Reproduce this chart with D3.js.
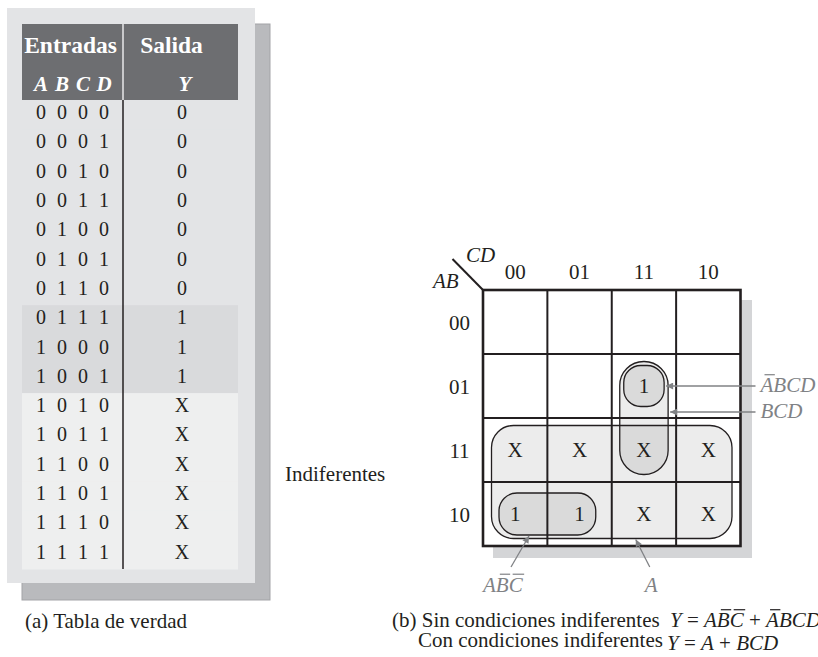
<!DOCTYPE html>
<html><head><meta charset="utf-8">
<script src="https://cdn.jsdelivr.net/npm/d3@7"></script>
<style>
body{margin:0;background:#fff}
svg{display:block}
text{font-family:"Liberation Serif","Times New Roman",serif;white-space:pre}
</style>
</head><body>
<svg id="c" width="818" height="657"></svg>
<script>
// ---------- data ----------
const inputNames = ["A","B","C","D"];
const inputs = ["0000","0001","0010","0011","0100","0101","0110","0111",
                "1000","1001","1010","1011","1100","1101","1110","1111"];
const outputs = ["0","0","0","0","0","0","0","1","1","1","X","X","X","X","X","X"];
const headerTop = ["Entradas","Salida"];
const outputName = "Y";
const kmapCols = ["00","01","11","10"];   // CD
const kmapRows = ["00","01","11","10"];   // AB
const groupNames = ["A","BCD","ABCD","ABC"];
const groupRows = [["11","10"],["01","11"],["01","01"],["10","10"]];
const groupCols = [["00","10"],["11","11"],["11","11"],["00","01"]];
const sideNote = "Indiferentes";
const captionA = "(a) Tabla de verdad";
const captionB1 = "(b) Sin condiciones indiferentes";
const captionB2 = "Con condiciones indiferentes";

// ---------- styles ----------
const INK = "#231f20", GRAY = "#808285";
const bandFill = {"0":"#e3e4e6","1":"#d9dadc","X":"#eeefef"};
const groupStyle = {
  A:   {ix:8.5, iy:7.5, r:22},
  BCD: {ix:8,   iy:7.5, r:24},
  ABCD:{ix:12,  iy:11.5,r:17},
  ABC: {ix:16,  iy:11,  r:18}
};

const svg = d3.select("#c");
const defs = svg.append("defs");
defs.append("marker").attr("id","ah").attr("viewBox","0 0 10 10")
  .attr("refX",10).attr("refY",5).attr("markerWidth",11).attr("markerHeight",7)
  .attr("markerUnits","userSpaceOnUse").attr("orient","auto")
  .append("path").attr("d","M0,0 L10,5 L0,10 Z").attr("fill",GRAY);

function richText(parent, x, y, segs, size, fill){
  const t = parent.append("text").attr("x",x).attr("y",y)
    .attr("font-size",size).attr("fill",fill);
  segs.forEach(s => t.append("tspan").text(s.t)
    .attr("font-style", s.i ? "italic" : "normal"));
  const node = t.node();
  let idx = 0;
  segs.forEach(s => {
    if (s.bar) {
      for (let k = 0; k < s.t.length; k++) {
        const a = node.getStartPositionOfChar(idx+k).x;
        const b = node.getEndPositionOfChar(idx+k).x;
        const sk = s.i ? 2.5 : 0;
        parent.append("line").attr("x1",a+1.5+sk).attr("x2",b-1+sk)
          .attr("y1",y-size*0.68-3).attr("y2",y-size*0.68-3)
          .attr("stroke",fill).attr("stroke-width",1.2);
      }
    }
    idx += s.t.length;
  });
  return t;
}

// ---------- truth table ----------
const yRow = d3.scaleBand().domain(d3.range(inputs.length)).range([100,569]);
const xIn = d3.scalePoint().domain(inputNames).range([41,104]);
const xOut = 182, tabL = 22, tabR = 238, divX = 123;

const tbl = svg.append("g");
tbl.append("rect").attr("x",22).attr("y",24).attr("width",248).attr("height",576)
  .attr("fill","#b9babd").attr("stroke","#a3a4a7").attr("stroke-width",1);
tbl.append("rect").attr("x",7).attr("y",8).attr("width",248).attr("height",575)
  .attr("fill","#e3e4e6");
tbl.append("rect").attr("x",tabL).attr("y",24).attr("width",tabR-tabL).attr("height",76)
  .attr("fill","#6d6e71");
tbl.selectAll("rect.band").data(outputs).join("rect").attr("class","band")
  .attr("x",tabL).attr("width",tabR-tabL)
  .attr("y",(d,i)=>yRow(i)).attr("height",yRow.bandwidth()+0.5)
  .attr("fill",d=>bandFill[d]);

tbl.append("text").attr("x",70.5).attr("y",52.5).attr("text-anchor","middle")
  .attr("font-size",23.5).attr("font-weight","bold").attr("fill","#fff").text(headerTop[0]);
tbl.append("text").attr("x",171.5).attr("y",52.5).attr("text-anchor","middle")
  .attr("font-size",23.5).attr("font-weight","bold").attr("fill","#fff").text(headerTop[1]);
tbl.selectAll("text.hin").data(inputNames).join("text").attr("class","hin")
  .attr("x",d=>xIn(d)).attr("y",90.5).attr("text-anchor","middle")
  .attr("font-size",21).attr("font-weight","bold").attr("font-style","italic")
  .attr("fill","#fff").text(d=>d);
tbl.append("text").attr("x",xOut+3).attr("y",90.5).attr("text-anchor","middle")
  .attr("font-size",21).attr("font-weight","bold").attr("font-style","italic")
  .attr("fill","#fff").text(outputName);
tbl.append("line").attr("x1",divX).attr("x2",divX).attr("y1",24).attr("y2",100)
  .attr("stroke","#e8e9ea").attr("stroke-width",1.5);
tbl.append("line").attr("x1",divX).attr("x2",divX).attr("y1",100).attr("y2",569)
  .attr("stroke",INK).attr("stroke-width",1.5);

inputs.forEach((bits,i)=>{
  tbl.selectAll(null).data(bits.split("")).join("text")
    .attr("x",(d,k)=>xIn(inputNames[k])).attr("y",yRow(i)+19)
    .attr("text-anchor","middle").attr("font-size",20).attr("fill",INK).text(d=>d);
});
tbl.selectAll("text.out").data(outputs).join("text").attr("class","out")
  .attr("x",xOut).attr("y",(d,i)=>yRow(i)+19).attr("text-anchor","middle")
  .attr("font-size",20).attr("fill",INK).text(d=>d);

svg.append("text").attr("x",25).attr("y",628).attr("font-size",21).attr("fill",INK).text(captionA);
svg.append("text").attr("x",285).attr("y",481).attr("font-size",21).attr("fill",INK).text(sideNote);

// ---------- Karnaugh map ----------
const kx = d3.scaleBand().domain(kmapCols).range([483,740.5]);
const ky = d3.scaleBand().domain(kmapRows).range([290,546]);
const [gx0,gx1] = kx.range(), [gy0,gy1] = ky.range();
const km = svg.append("g");
km.append("rect").attr("x",gx0+10).attr("y",gy0+10).attr("width",gx1-gx0+1.5)
  .attr("height",gy1-gy0+2).attr("fill","#d4d5d7");
km.append("rect").attr("x",gx0).attr("y",gy0).attr("width",gx1-gx0)
  .attr("height",gy1-gy0).attr("fill","#fff");

function gbox(i){
  const st = groupStyle[groupNames[i]];
  const x0 = kx(groupCols[i][0]) + st.ix, x1 = kx(groupCols[i][1]) + kx.bandwidth() - st.ix;
  const y0 = ky(groupRows[i][0]) + st.iy, y1 = ky(groupRows[i][1]) + ky.bandwidth() - st.iy;
  return {x0,x1,y0,y1,r:st.r};
}
const boxes = groupNames.map((n,i)=>gbox(i));
km.selectAll("rect.gfill").data(boxes).join("rect").attr("class","gfill")
  .attr("x",d=>d.x0).attr("y",d=>d.y0).attr("width",d=>d.x1-d.x0).attr("height",d=>d.y1-d.y0)
  .attr("rx",d=>d.r).attr("fill","#000").attr("fill-opacity",0.075);

// grid
kmapCols.slice(1).forEach(c=>km.append("line").attr("x1",kx(c)).attr("x2",kx(c))
  .attr("y1",gy0).attr("y2",gy1).attr("stroke",INK).attr("stroke-width",2));
kmapRows.slice(1).forEach(r=>km.append("line").attr("y1",ky(r)).attr("y2",ky(r))
  .attr("x1",gx0).attr("x2",gx1).attr("stroke",INK).attr("stroke-width",2));

km.selectAll("rect.gline").data(boxes).join("rect").attr("class","gline")
  .attr("x",d=>d.x0).attr("y",d=>d.y0).attr("width",d=>d.x1-d.x0).attr("height",d=>d.y1-d.y0)
  .attr("rx",d=>d.r).attr("fill","none").attr("stroke",INK).attr("stroke-width",1.3);

km.append("rect").attr("x",gx0).attr("y",gy0).attr("width",gx1-gx0)
  .attr("height",gy1-gy0).attr("fill","none").attr("stroke",INK).attr("stroke-width",2.6);
km.append("line").attr("x1",gx0-30.5).attr("y1",gy0-31).attr("x2",gx0).attr("y2",gy0)
  .attr("stroke",INK).attr("stroke-width",2);

km.selectAll("text.cl").data(kmapCols).join("text").attr("class","cl")
  .attr("x",d=>kx(d)+kx.bandwidth()/2).attr("y",gy0-11).attr("text-anchor","middle")
  .attr("font-size",21).attr("fill",INK).text(d=>d);
km.selectAll("text.rl").data(kmapRows).join("text").attr("class","rl")
  .attr("x",gx0-23.5).attr("y",d=>ky(d)+ky.bandwidth()/2+7.5).attr("text-anchor","middle")
  .attr("font-size",21).attr("fill",INK).text(d=>d);
km.append("text").attr("x",gx0-17).attr("y",gy0-28).attr("font-size",21)
  .attr("font-style","italic").attr("fill",INK).text("CD");
km.append("text").attr("x",gx0-50).attr("y",gy0-2).attr("font-size",21)
  .attr("font-style","italic").attr("fill",INK).text("AB");

const cells = [];
kmapRows.forEach(r=>kmapCols.forEach(c=>{
  const v = outputs[parseInt(r+c,2)];
  if (v !== "0") cells.push({r,c,v});
}));
km.selectAll("text.cell").data(cells).join("text").attr("class","cell")
  .attr("x",d=>kx(d.c)+kx.bandwidth()/2).attr("y",d=>ky(d.r)+ky.bandwidth()/2+7)
  .attr("text-anchor","middle").attr("font-size",21).attr("fill",INK).text(d=>d.v);

// annotations
const bA = boxes[0], bBCD = boxes[1], bABCD = boxes[2], bABC = boxes[3];
const ann = svg.append("g");
const yAbcd = (bABCD.y0+bABCD.y1)/2;
ann.append("line").attr("x1",gx1+15).attr("x2",bABCD.x1+2).attr("y1",yAbcd).attr("y2",yAbcd)
  .attr("stroke",GRAY).attr("stroke-width",1.3).attr("marker-end","url(#ah)");
const yBcd = ky("01")+ky.bandwidth()-6;
ann.append("line").attr("x1",gx1+15).attr("x2",bBCD.x1+2).attr("y1",yBcd).attr("y2",yBcd)
  .attr("stroke",GRAY).attr("stroke-width",1.3).attr("marker-end","url(#ah)");
richText(ann, gx1+20, yAbcd+6, [{t:"A",i:1,bar:1},{t:"BCD",i:1}], 21, GRAY);
richText(ann, gx1+20, yBcd+6, [{t:"BCD",i:1}], 21, GRAY);

ann.append("line").attr("x1",bABC.x0+12).attr("y1",gy1+21).attr("x2",bABC.x0+30).attr("y2",bABC.y1+1)
  .attr("stroke",GRAY).attr("stroke-width",1.3).attr("marker-end","url(#ah)");
ann.append("line").attr("x1",kx("11")+38).attr("y1",gy1+21).attr("x2",kx("11")+24).attr("y2",bA.y1+1)
  .attr("stroke",GRAY).attr("stroke-width",1.3).attr("marker-end","url(#ah)");
richText(ann, gx0, gy1+45.5, [{t:"A",i:1},{t:"BC",i:1,bar:1}], 21, GRAY);
richText(ann, kx("11")+33, gy1+45.5, [{t:"A",i:1}], 21, GRAY);

// caption b
svg.append("text").attr("x",392).attr("y",627).attr("font-size",21).attr("fill",INK).text(captionB1);
svg.append("text").attr("x",418).attr("y",647).attr("font-size",21).attr("fill",INK).text(captionB2);
richText(svg, 670, 627, [{t:"Y",i:1},{t:" = "},{t:"A",i:1},{t:"BC",i:1,bar:1},{t:" + "},
  {t:"A",i:1,bar:1},{t:"BCD",i:1}], 21, INK);
richText(svg, 667, 650, [{t:"Y",i:1},{t:" = "},{t:"A",i:1},{t:" + "},{t:"BCD",i:1}], 21, INK);
</script>
</body></html>
